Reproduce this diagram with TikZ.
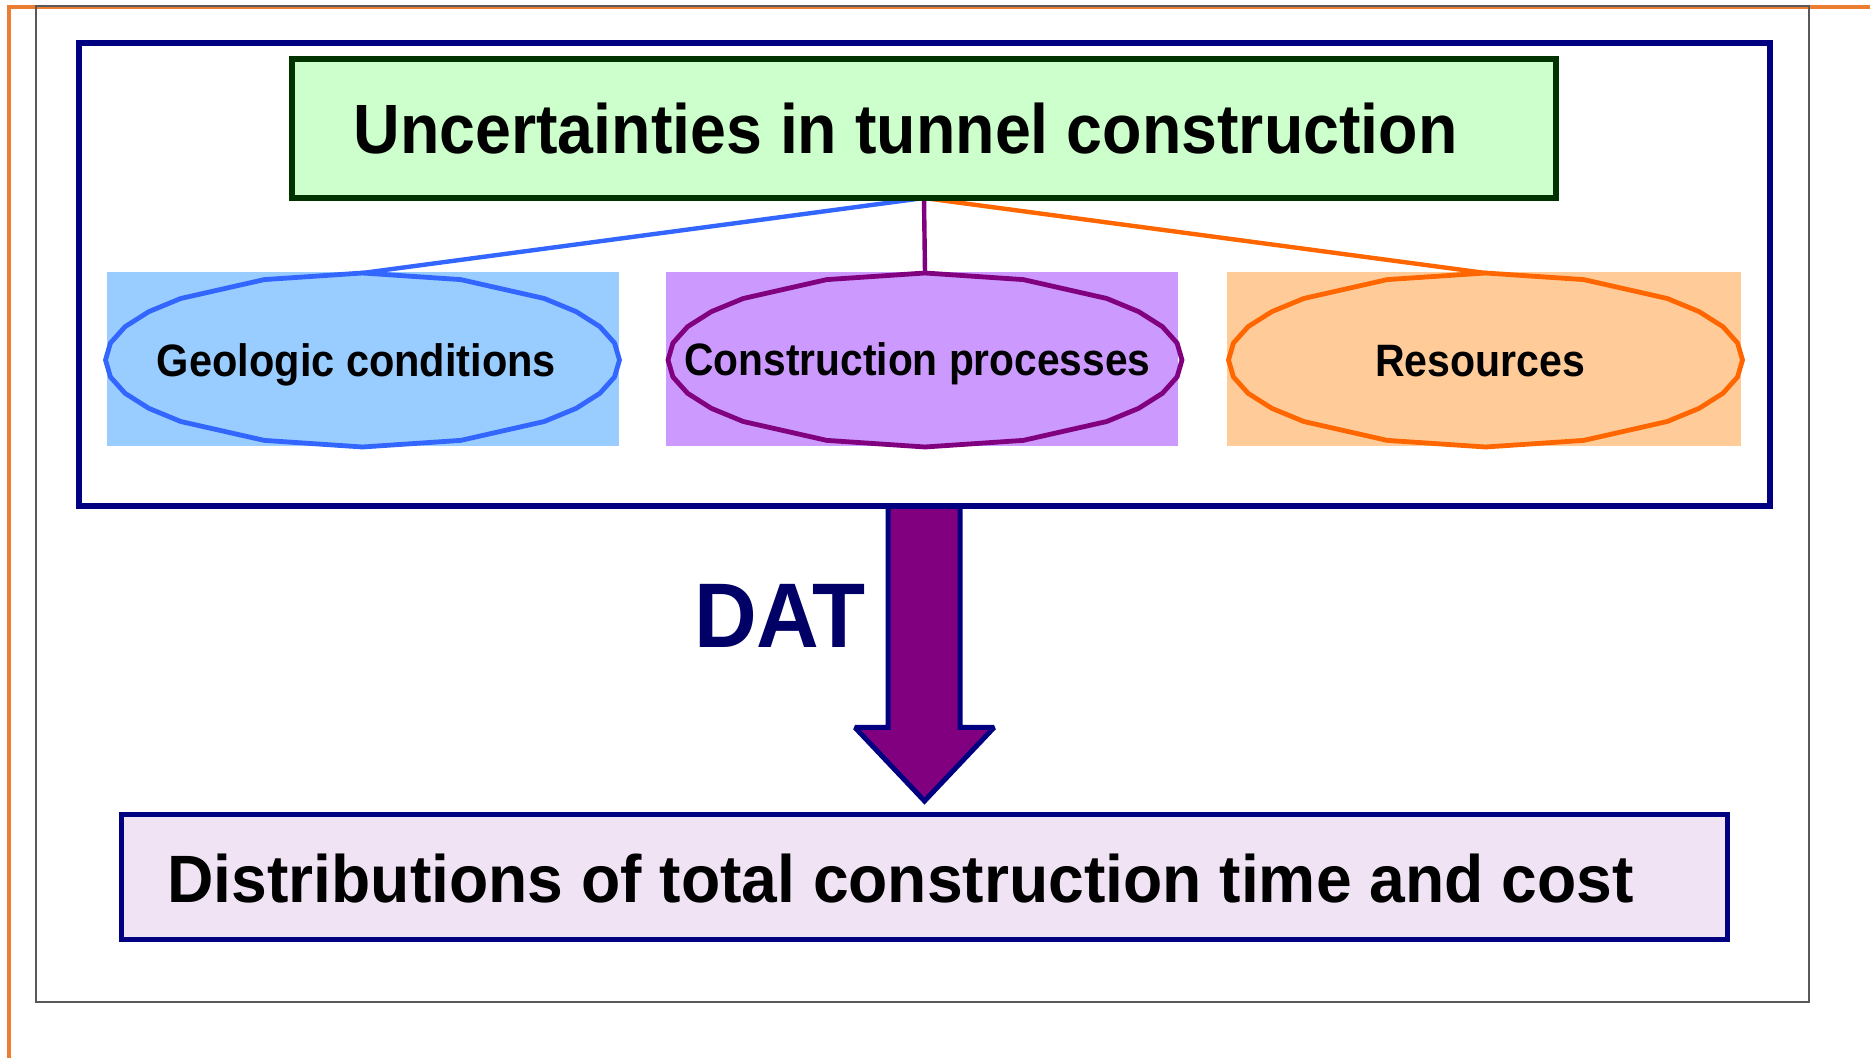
\documentclass[tikz,border=0pt]{standalone}
\usepackage{fontspec}
\setmainfont{Liberation Sans}
\usetikzlibrary{shapes.geometric}
\definecolor{navyc}{HTML}{000080}
\definecolor{datc}{HTML}{000066}
\definecolor{frameorange}{HTML}{ED7D31}
\definecolor{greenfill}{HTML}{CCFFCC}
\definecolor{greenline}{HTML}{003300}
\definecolor{bluefill}{HTML}{99CCFF}
\definecolor{blueline}{HTML}{3366FF}
\definecolor{purplefill}{HTML}{CC99FF}
\definecolor{purpleline}{HTML}{800080}
\definecolor{orangefill}{HTML}{FFCC99}
\definecolor{orangeline}{HTML}{FF6600}
\definecolor{distfill}{HTML}{F0E4F4}
\newcommand{\polyell}[2]{%
  \draw[line width=2.4pt, #2, line join=round, shift={(#1.center)}]
    (0:257 and 87)
    \foreach \a in {11.25,22.5,33.75,45,67.5,90,112.5,135,146.25,157.5,168.75,180,191.25,202.5,213.75,225,247.5,270,292.5,315,326.25,337.5,348.75} { -- (\a:257 and 87) }
    -- cycle;}
\begin{document}
\begin{tikzpicture}[x=0.5pt,y=-0.5pt,
  boxnode/.style={rectangle, inner sep=0pt, outer sep=0pt},
  ellnode/.style={ellipse, draw=none, minimum width=257pt, minimum height=87pt, inner sep=0pt, outer sep=0pt},
  lbl/.style={anchor=base, inner sep=0pt, font=\bfseries},
  conn/.style={line width=2.2pt}
]
\useasboundingbox (0,0) rectangle (1870,1058);
% page frames
\draw[frameorange, line width=2pt] (8.5,1058) -- (8.5,7.5) -- (1870,7.5);
\draw[black!65, line width=0.8pt] (36,6) rectangle (1809,1002);

% outer navy box
\node[boxnode, draw=navyc, line width=3pt, minimum width=845.5pt, minimum height=231.5pt] (outer) at (924,275) {};

% coloured rectangles
\node[boxnode, fill=bluefill, minimum width=256pt, minimum height=87pt] (georect) at (363,359) {};
\node[boxnode, fill=purplefill, minimum width=256pt, minimum height=87pt] (consrect) at (922,359) {};
\node[boxnode, fill=orangefill, minimum width=257.25pt, minimum height=87pt] (resrect) at (1484,359) {};

% ellipse nodes
\node[ellnode] (geo) at (362.5,360) {};
\node[ellnode] (cons) at (925,360) {};
\node[ellnode] (res) at (1485.5,360) {};

% title box
\node[boxnode, minimum width=632pt, minimum height=69.5pt] (titlebox) at (924,128.5) {};

% connectors
\draw[conn, blueline] (titlebox.south) -- (geo.north);
\draw[conn, purpleline] (titlebox.south) -- (cons.north);
\draw[conn, orangeline] (titlebox.south) -- (res.north);

\draw[greenline, fill=greenfill, line width=3pt] (titlebox.south west) rectangle (titlebox.north east);

\polyell{geo}{blueline}
\polyell{cons}{purpleline}
\polyell{res}{orangeline}

% labels
\node[lbl, font=\bfseries\fontsize{34.9}{40}\selectfont] (title) at (905.5,154) {\resizebox{552pt}{\height}{Uncertainties in tunnel construction}};
\node[lbl, font=\bfseries\fontsize{22.7}{26}\selectfont] (geotext) at (356.5,377) {\resizebox{199.5pt}{\height}{Geologic conditions}};
\node[lbl, font=\bfseries\fontsize{22.7}{26}\selectfont] (constext) at (917.5,376) {\resizebox{233pt}{\height}{Construction processes}};
\node[lbl, font=\bfseries\fontsize{22.7}{26}\selectfont] (restext) at (1480,377) {\resizebox{105pt}{\height}{Resources}};

% distribution box
\node[boxnode, draw=navyc, fill=distfill, line width=2.5pt, minimum width=803pt, minimum height=62pt] (dist) at (924,877) {};
\node[lbl, font=\bfseries\fontsize{33.5}{38}\selectfont] (disttext) at (900.5,902) {\resizebox{733pt}{\height}{Distributions of total construction time and cost}};

% block arrow
\draw[navyc, fill=purpleline, line width=2.5pt, line join=miter, miter limit=2]
  (888,506.5) -- (888,727.5) -- (855,727.5) -- (924.5,801) -- (994,727.5) -- (960,727.5) -- (960,506.5) -- cycle;

% DAT label
\node[lbl, text=datc, font=\bfseries\fontsize{45.9}{52}\selectfont] (dat) at (780,648) {\resizebox{86pt}{\height}{DAT}};
\end{tikzpicture}
\end{document}
